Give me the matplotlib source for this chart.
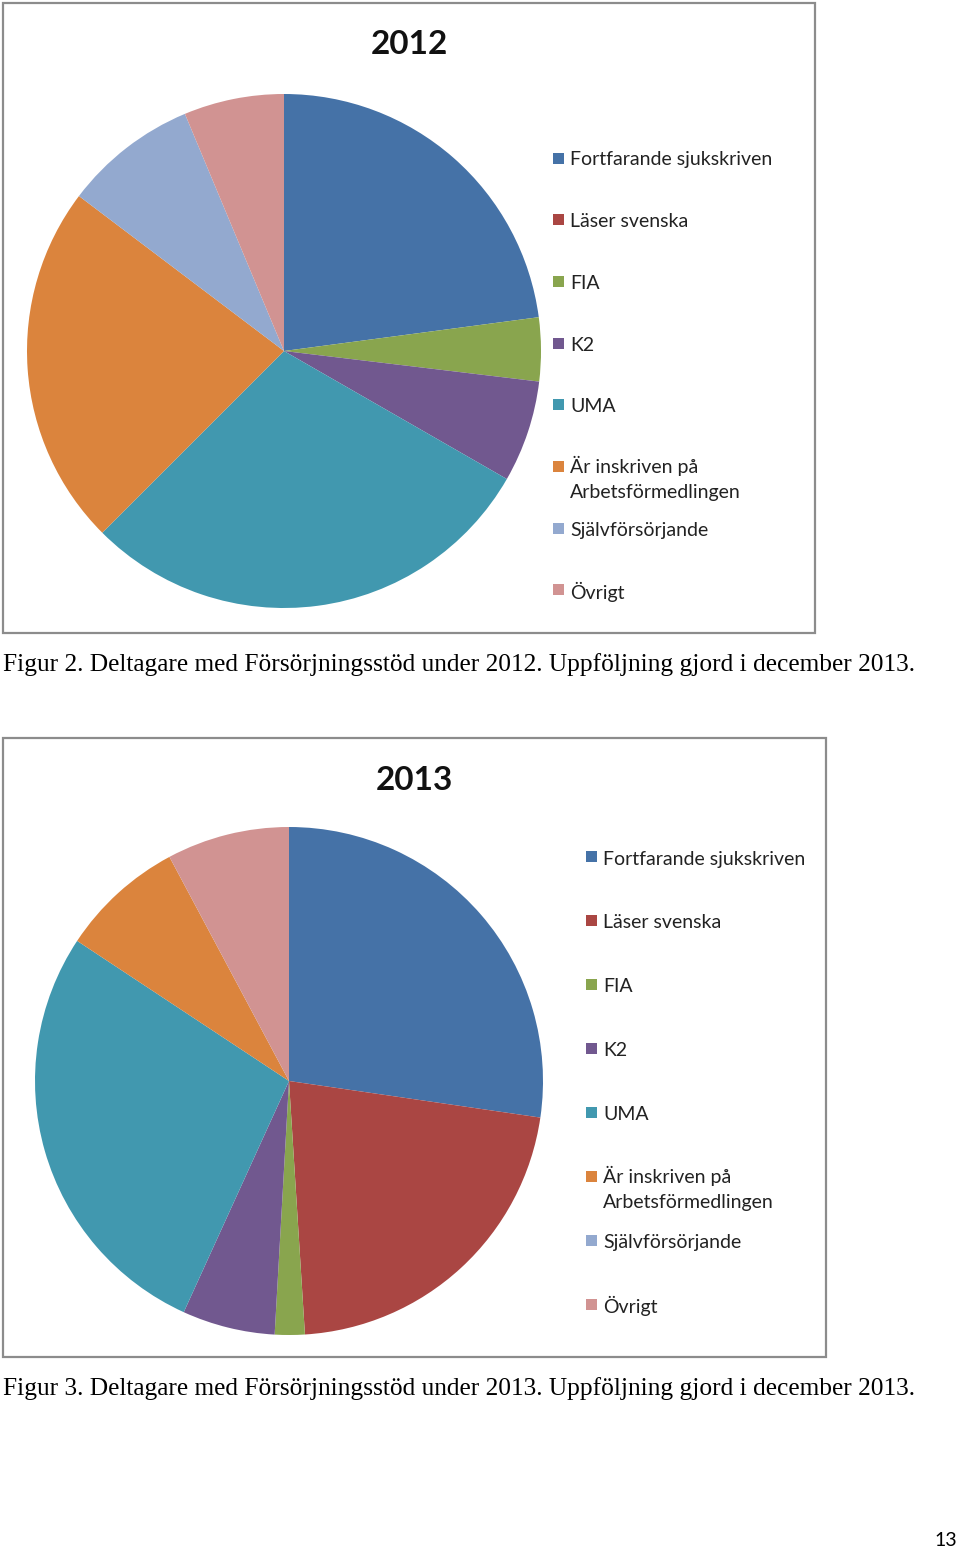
import matplotlib.pyplot as plt
from matplotlib.patches import Rectangle

labels = ['Fortfarande sjukskriven', 'Läser svenska', 'FIA', 'K2', 'UMA',
          'Är inskriven på\nArbetsförmedlingen', 'Självförsörjande', 'Övrigt']
colors = ['#4572A7', '#AA4643', '#89A54E', '#71588F', '#4198AF',
          '#DB843D', '#93A9CF', '#D19392']

values_2012 = [22.9, 0, 4.0, 6.4, 29.2, 22.8, 8.4, 6.3]
values_2013 = [27.3, 21.7, 1.9, 5.9, 27.5, 7.9, 0, 7.8]

caption_2012 = 'Figur 2. Deltagare med Försörjningsstöd under 2012. Uppföljning gjord i december 2013.'
caption_2013 = 'Figur 3. Deltagare med Försörjningsstöd under 2013. Uppföljning gjord i december 2013.'

W, H = 960, 1550
fig = plt.figure(figsize=(W / 100, H / 100), dpi=100)


def fx(x):
    return x / W


def fy(y):
    return 1 - y / H


def draw_chart(year, values, cx, cy, r, frame, title_xy, leg_x, leg_y0, leg_step):
    # ram runt diagrammet
    x0, y0, x1, y1 = frame
    fig.patches.append(Rectangle((fx(x0), fy(y1)), fx(x1 - x0), (y1 - y0) / H,
                                 transform=fig.transFigure, fill=False,
                                 edgecolor='#8c8c8c', linewidth=1.6))
    ax = fig.add_axes([fx(cx - r), fy(cy + r), 2 * r / W, 2 * r / H])
    ax.pie(values, colors=colors, startangle=90, counterclock=False,
           wedgeprops=dict(linewidth=0))
    ax.set_xlim(-1, 1)
    ax.set_ylim(-1, 1)
    ax.axis('off')
    fig.text(fx(title_xy[0]), fy(title_xy[1]), str(year), ha='center', va='center',
             fontsize=24, fontweight='bold', family='Lato', color='#111111')
    # legend
    for i, (lab, col) in enumerate(zip(labels, colors)):
        y = leg_y0 + i * leg_step
        fig.patches.append(Rectangle((fx(leg_x - 5.5), fy(y + 5.5)), 11 / W, 11 / H,
                                     transform=fig.transFigure, facecolor=col,
                                     edgecolor='none'))
        n = lab.count('\n')
        fig.text(fx(leg_x + 12), fy(y + 2 + n * 10), lab, ha='left', va='center',
                 fontsize=14, family='Lato', color='#222222', linespacing=1.55)


draw_chart(2012, values_2012, 284, 351, 257, (3, 3, 815, 633), (409, 45),
           558, 158, 61.7)
fig.text(fx(3), fy(665), caption_2012, ha='left', va='center',
         fontsize=18.3, family='Liberation Serif', color='black')

draw_chart(2013, values_2013, 289, 1081, 254, (3, 738, 826, 1357), (414, 781),
           591, 857, 63.9)
fig.text(fx(3), fy(1389), caption_2013, ha='left', va='center',
         fontsize=18.3, family='Liberation Serif', color='black')

fig.text(fx(957), fy(1540), '13', ha='right', va='center', fontsize=14,
         family='Lato', color='black')

plt.savefig('out.png', dpi=100)
